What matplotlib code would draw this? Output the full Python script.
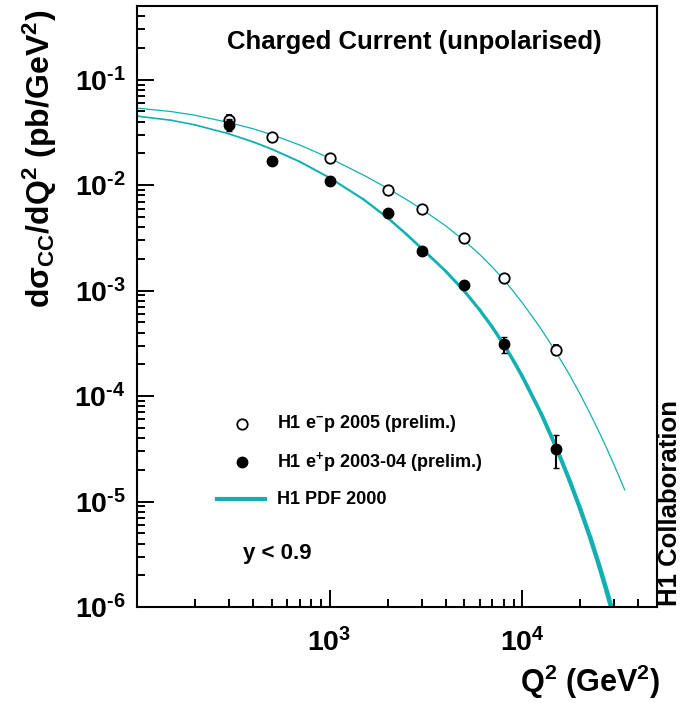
import matplotlib
matplotlib.use("Agg")
import matplotlib.pyplot as plt
import numpy as np
from matplotlib.collections import LineCollection
from matplotlib.lines import Line2D
from matplotlib.ticker import LogLocator, NullFormatter

plt.rcParams['font.family'] = ['Liberation Sans', 'DejaVu Sans']
plt.rcParams['font.weight'] = 'bold'
plt.rcParams['mathtext.fontset'] = 'custom'
plt.rcParams['mathtext.rm'] = 'Liberation Sans:bold'
plt.rcParams['mathtext.bf'] = 'Liberation Sans:bold'
plt.rcParams['mathtext.it'] = 'Liberation Sans:bold:italic'

# ---------------- data ----------------
q2 = [300, 500, 1000, 2000, 3000, 5000, 8000, 15000]
em_xsec = [0.0417, 0.0285, 0.0182, 0.0090, 0.00594, 0.00315, 0.00131, 2.73e-4]
em_err = [0.005, 0.0012, 0.0006, 0.0003, 0.0002, 0.00011, 5e-5, 3e-5]
ep_xsec = [0.0376, 0.0171, 0.0110, 0.0054, 0.00238, 0.00112, 3.09e-4, 3.17e-5]
ep_err = [0.005, 0.0011, 0.0006, 0.0003, 0.00013, 7e-5, 5.5e-5, 1.1e-5]

pdf_em_q2 = [100, 150, 200, 300, 400, 500, 700, 1000, 1500, 2000, 2500, 3000, 4000,
             5000, 6000, 7000, 8000, 9000, 10000, 12500, 15000, 17500, 20000, 22500,
             25000, 27500, 30000, 34000]
pdf_em = [0.0538, 0.04993, 0.04603, 0.03927, 0.034299, 0.03015, 0.02402, 0.01806,
          0.01245, 0.009324, 0.0073161, 0.005939, 0.004114, 0.002975, 0.0022107,
          0.0016634, 0.001278, 9.7901e-4, 7.66e-4, 4.34e-4, 2.59e-4, 1.615e-4,
          1.035e-4, 6.80e-5, 4.59e-5, 3.152e-5, 2.21e-5, 1.29e-5]

pdf_ep_q2 = [100, 150, 200, 300, 400, 500, 700, 1000, 1500, 2000, 2500, 3000, 4000,
             5000, 6000, 7000, 8000, 9000, 10000, 12500, 15000, 17500, 20000, 22500,
             25000, 27500, 29000]
pdf_ep = [0.045178, 0.041277, 0.037289, 0.030672, 0.025736, 0.021988, 0.016686,
          0.011746, 0.0073193, 0.0049012, 0.0034291, 0.0025180, 0.0015295,
          9.8999e-4, 6.5795e-4, 4.4803e-4, 3.0903e-4, 2.1608e-4, 1.5349e-4,
          6.8666e-5, 3.2492e-5, 1.6222e-5, 8.4644e-6, 4.5608e-6, 2.5024e-6,
          1.3887e-6, 9.7985e-7]

x_ticks = [1e3, 1e4]
x_ticklabels = [r'$\mathbf{10^{3}}$', r'$\mathbf{10^{4}}$']
y_ticks = [1e-6, 1e-5, 1e-4, 1e-3, 1e-2, 1e-1]
y_ticklabels = ['$\\mathbf{10^{\u20106}}$', '$\\mathbf{10^{\u20105}}$', '$\\mathbf{10^{\u20104}}$',
                '$\\mathbf{10^{\u20103}}$', '$\\mathbf{10^{\u20102}}$', '$\\mathbf{10^{\u20101}}$']

TEAL = '#12b0b0'
W, H = 681, 703

fig = plt.figure(figsize=(W / 100, H / 100), dpi=100)
ax = fig.add_axes([137 / W, 1 - 607 / H, 520 / W, 601 / H])
ax.set_xscale('log')
ax.set_yscale('log')
ax.set_xlim(100, 50000)
ax.set_ylim(1e-6, 0.5)

# theory curves
ax.plot(pdf_em_q2, pdf_em, color=TEAL, lw=0.9, zorder=2, solid_joinstyle='round')
pts = np.column_stack([pdf_ep_q2, pdf_ep])
segs = np.stack([pts[:-1], pts[1:]], axis=1)
lx = np.log10(np.array(pdf_ep_q2[:-1]))
widths = 1.2 + 2.2 * ((lx - 2.0) / 2.46) ** 2
lc = LineCollection(segs, colors=TEAL, linewidths=widths, capstyle='round',
                    joinstyle='round', zorder=2)
ax.add_collection(lc)

# data
ax.errorbar(q2, em_xsec, yerr=em_err, fmt='o', ms=7.5, mfc='white', mec='black',
            mew=1.3, ecolor='black', elinewidth=1.5, capsize=2, capthick=1.2, zorder=4)
ax.errorbar(q2, ep_xsec, yerr=ep_err, fmt='o', ms=7.5, mfc='black', mec='black',
            mew=1.0, ecolor='black', elinewidth=1.5, capsize=2, capthick=1.2, zorder=5)

# axes styling
for s in ax.spines.values():
    s.set_linewidth(1.5)
ax.set_xticks(x_ticks)
ax.set_xticklabels(x_ticklabels)
ax.set_yticks(y_ticks)
ax.set_yticklabels(y_ticklabels)
ax.xaxis.set_minor_locator(LogLocator(base=10, subs=np.arange(2, 10), numticks=20))
ax.yaxis.set_minor_locator(LogLocator(base=10, subs=np.arange(2, 10), numticks=20))
ax.xaxis.set_minor_formatter(NullFormatter())
ax.yaxis.set_minor_formatter(NullFormatter())
ax.tick_params(which='both', direction='in', top=False, right=False, width=1.4)
ax.tick_params(which='major', length=12, labelsize=20.5, pad=8)
ax.tick_params(which='minor', length=5.5)
ax.tick_params(axis='x', which='major', pad=15)

# legend / text helpers (pixel -> axes fraction)
def fx(px):
    return (px - 137) / 520

def fy(py):
    return (607 - py) / 601

ax.text(fx(414), fy(42), 'Charged Current (unpolarised)', transform=ax.transAxes,
        ha='center', va='center', fontsize=18.5, fontweight='bold')
fig.text(40 / W, 1 - 10 / H, r'd$\mathbf{\sigma_{CC}}$/dQ$^{\mathbf{2}}$ (pb/GeV$^{\mathbf{2}}$)',
         rotation=90, ha='center', va='top', fontsize=23, fontweight='bold')
fig.text(660 / W, 1 - 692 / H, r'Q$^{\mathbf{2}}$ (GeV$^{\mathbf{2}}$)', ha='right',
         va='baseline', fontsize=22, fontweight='bold')
fig.text(670 / W, 1 - 606 / H, 'H1 Collaboration', rotation=90, ha='center',
         va='bottom', fontsize=18.5, fontweight='bold')

ax.add_line(Line2D([fx(241.5)], [fy(424)], marker='o', ms=7.5, mfc='white', mec='black',
                   mew=1.3, transform=ax.transAxes, zorder=6))
ax.add_line(Line2D([fx(241.5)], [fy(462)], marker='o', ms=7.5, mfc='black', mec='black',
                   transform=ax.transAxes, zorder=6))
ax.add_line(Line2D([fx(217), fx(265)], [fy(499), fy(499)], transform=ax.transAxes,
                   color=TEAL, lw=3, zorder=6))
ax.text(fx(277), fy(424), r'H1 e$^{\mathbf{-}}$p 2005 (prelim.)', transform=ax.transAxes,
        ha='left', va='center', fontsize=13, fontweight='bold')
ax.text(fx(277), fy(462), r'H1 e$^{\mathbf{+}}$p 2003-04 (prelim.)', transform=ax.transAxes,
        ha='left', va='center', fontsize=13, fontweight='bold')
ax.text(fx(277), fy(499), 'H1 PDF 2000', transform=ax.transAxes,
        ha='left', va='center', fontsize=13, fontweight='bold')
ax.text(fx(243), fy(554), 'y < 0.9', transform=ax.transAxes,
        ha='left', va='center', fontsize=16, fontweight='bold')

fig.savefig('out.png', dpi=100)
